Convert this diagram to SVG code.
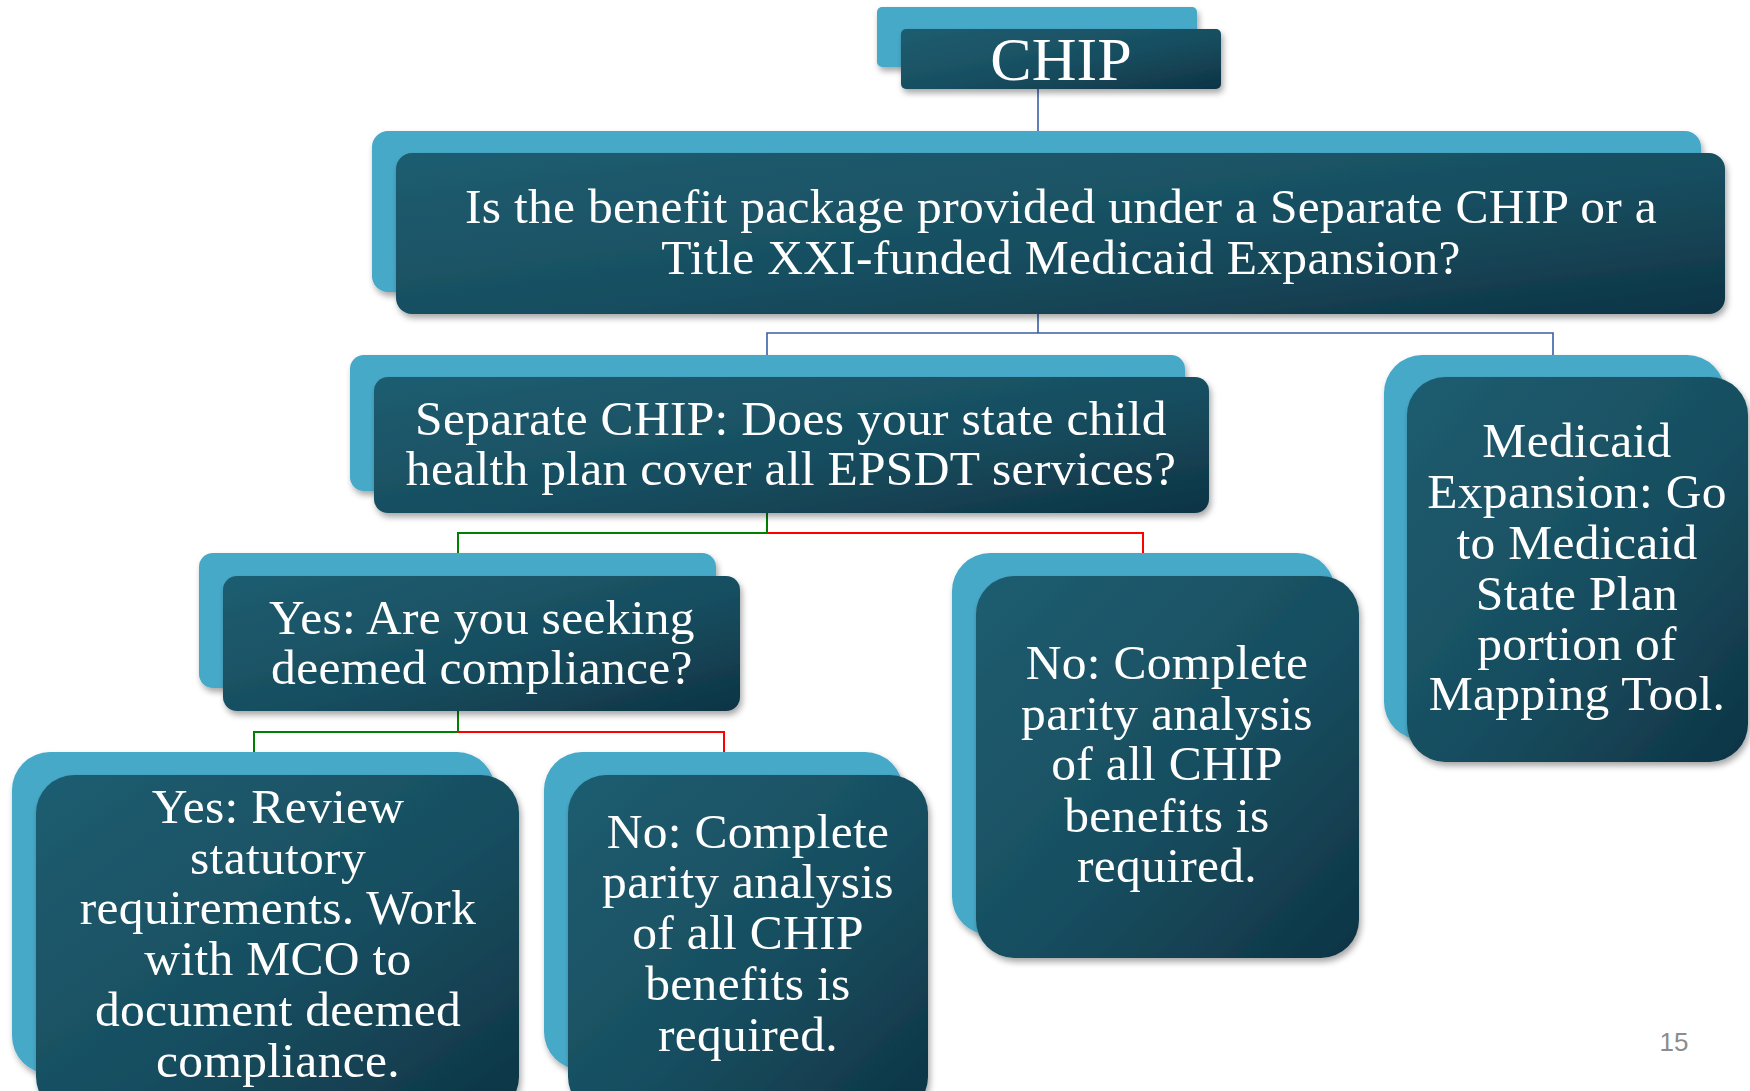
<svg xmlns="http://www.w3.org/2000/svg" width="1750" height="1091" viewBox="0 0 1750 1091">
<defs>
<linearGradient id="fg" x1="0" y1="0" x2="1" y2="1">
<stop offset="0" stop-color="#1E5D70"/>
<stop offset="0.55" stop-color="#184E60"/>
<stop offset="1" stop-color="#0E3444"/>
</linearGradient>
<filter id="sh" x="-10%" y="-10%" width="120%" height="130%">
<feDropShadow dx="2" dy="4" stdDeviation="3" flood-color="#000" flood-opacity="0.35"/>
</filter>
<style>
.back{fill:#47A9C8;filter:url(#sh)}
.front{fill:url(#fg);filter:url(#sh)}
.t{font-family:"Liberation Serif","DejaVu Serif",serif;font-size:49.5px;letter-spacing:0.3px;fill:#fff;text-anchor:middle}
.blue{stroke:#3A5FA6;stroke-width:1.6;fill:none}
.green{stroke:#008000;stroke-width:2;fill:none}
.red{stroke:#FF0000;stroke-width:2;fill:none}
</style>
</defs>
<rect width="1750" height="1091" fill="#fff"/>
<g id="connectors">
<path class="blue" d="M1038,89 V131"/>
<path class="blue" d="M1038,314 V333 M767,355 V333 H1553 V355"/>
<path class="green" d="M767,513 V533 H458 V553"/>
<path class="red" d="M767,533 H1143 V553"/>
<path class="green" d="M458,711 V732 H254 V752"/>
<path class="red" d="M458,732 H724 V752"/>
</g>
<g id="chip">
<rect class="back" x="877" y="7" width="320" height="60" rx="5"/>
<rect class="front" x="901" y="29" width="320" height="60" rx="5"/>
<text class="t" x="1061" y="80" style="font-size:62px;letter-spacing:0">CHIP</text>
</g>
<g id="question">
<rect class="back" x="372" y="131" width="1329" height="161" rx="16"/>
<rect class="front" x="396" y="153" width="1329" height="161" rx="16"/>
<text class="t" x="1061" y="223">Is the benefit package provided under a Separate CHIP or a</text>
<text class="t" x="1061" y="274">Title XXI-funded Medicaid Expansion?</text>
</g>
<g id="separate">
<rect class="back" x="350" y="355" width="835" height="136" rx="14"/>
<rect class="front" x="374" y="377" width="835" height="136" rx="14"/>
<text class="t" x="791" y="435">Separate CHIP: Does your state child</text>
<text class="t" x="791" y="485">health plan cover all EPSDT services?</text>
</g>
<g id="medicaid">
<rect class="back" x="1384" y="355" width="341" height="385" rx="38"/>
<rect class="front" x="1407" y="377" width="341" height="385" rx="38"/>
<text class="t" x="1577" y="457">Medicaid</text>
<text class="t" x="1577" y="508">Expansion: Go</text>
<text class="t" x="1577" y="559">to Medicaid</text>
<text class="t" x="1577" y="610">State Plan</text>
<text class="t" x="1577" y="660">portion of</text>
<text class="t" x="1577" y="710">Mapping Tool.</text>
</g>
<g id="yes-deemed">
<rect class="back" x="199" y="553" width="517" height="135" rx="14"/>
<rect class="front" x="223" y="576" width="517" height="135" rx="14"/>
<text class="t" x="482" y="634">Yes: Are you seeking</text>
<text class="t" x="482" y="684">deemed compliance?</text>
</g>
<g id="no-parity-1">
<rect class="back" x="952" y="553" width="383" height="382" rx="38"/>
<rect class="front" x="976" y="576" width="383" height="382" rx="38"/>
<text class="t" x="1167" y="679">No: Complete</text>
<text class="t" x="1167" y="730">parity analysis</text>
<text class="t" x="1167" y="780">of all CHIP</text>
<text class="t" x="1167" y="832">benefits is</text>
<text class="t" x="1167" y="882">required.</text>
</g>
<g id="yes-review">
<rect class="back" x="12" y="752" width="483" height="322" rx="38"/>
<rect class="front" x="36" y="775" width="483" height="340" rx="38"/>
<text class="t" x="278" y="823">Yes: Review</text>
<text class="t" x="278" y="874">statutory</text>
<text class="t" x="278" y="924">requirements. Work</text>
<text class="t" x="278" y="975">with MCO to</text>
<text class="t" x="278" y="1026">document deemed</text>
<text class="t" x="278" y="1077">compliance.</text>
</g>
<g id="no-parity-2">
<rect class="back" x="544" y="752" width="359" height="318" rx="38"/>
<rect class="front" x="568" y="775" width="360" height="340" rx="38"/>
<text class="t" x="748" y="848">No: Complete</text>
<text class="t" x="748" y="898">parity analysis</text>
<text class="t" x="748" y="949">of all CHIP</text>
<text class="t" x="748" y="1000">benefits is</text>
<text class="t" x="748" y="1051">required.</text>
</g>
<text x="1674" y="1051" style="font-family:'Liberation Sans','DejaVu Sans',sans-serif;font-size:26px;fill:#8C8C8C;text-anchor:middle">15</text>
</svg>
